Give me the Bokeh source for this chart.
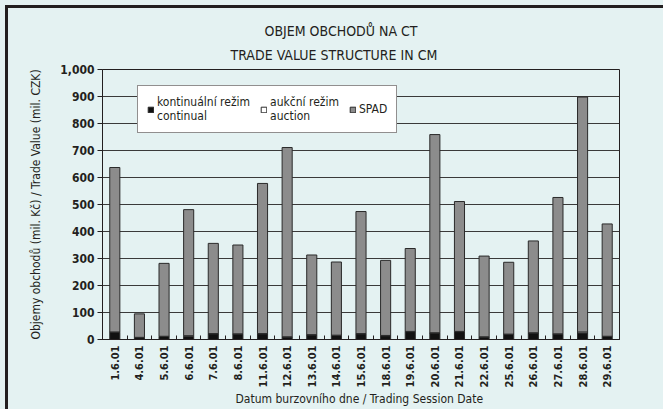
from bokeh.plotting import figure
from bokeh.models import (Range1d, FixedTicker, NumeralTickFormatter, Title,
                          Legend, LegendItem, GlobalInlineStyleSheet, ColumnDataSource)
from bokeh.embed import file_html
from bokeh.resources import INLINE
from math import pi

# ---- data ----
dates = ["1.6.01", "4.6.01", "5.6.01", "6.6.01", "7.6.01", "8.6.01", "11.6.01",
         "12.6.01", "13.6.01", "14.6.01", "15.6.01", "18.6.01", "19.6.01", "20.6.01",
         "21.6.01", "22.6.01", "25.6.01", "26.6.01", "27.6.01", "28.6.01", "29.6.01"]
continual = [26, 7, 11, 12, 21, 20, 21, 9, 17, 15, 21, 14, 29, 24, 29, 9, 19, 24, 20, 24, 11]
auction = [2, 1, 1, 2, 1, 1, 1, 1, 1, 1, 1, 1, 1, 1, 1, 1, 1, 1, 1, 4, 1]
spad = [609, 87, 270, 467, 334, 329, 556, 701, 295, 271, 452, 278, 307, 734,
        481, 299, 266, 340, 505, 870, 416]
y_ticks = [0, 100, 200, 300, 400, 500, 600, 700, 800, 900, 1000]

title1 = "OBJEM OBCHODŮ NA CT"
title2 = "TRADE VALUE STRUCTURE IN CM"
y_label = "Objemy obchodů (mil. Kč) / Trade Value (mil. CZK)"
x_label = "Datum burzovního dne /  Trading Session Date"
legend_labels = ["kontinuální režim\ncontinual", "aukční režim\nauction", "SPAD"]

# ---- styles ----
BG = "#e4f2f2"
FONT = "'DejaVu Sans Condensed', 'Liberation Sans Narrow', sans-serif"
INK = "#231f20"

idx = list(range(len(dates)))
src = ColumnDataSource(dict(x=idx, continual=continual, auction=auction, spad=spad))

p = figure(width=655, height=401, output_backend="svg", toolbar_location=None,
           x_range=Range1d(-0.5, len(dates) - 0.5), y_range=Range1d(0, 1000),
           min_border_left=94, min_border_right=44, min_border_top=61, min_border_bottom=70,
           background_fill_color=BG, border_fill_color=BG,
           outline_line_color=INK, outline_line_width=1)

p.stylesheets = [GlobalInlineStyleSheet(css=(
    "html, body { background-color: %s; }"
    "body { margin: 5px 0 0 5px; border-top: 3px solid %s; border-left: 3px solid %s; }"
) % (BG, INK, INK))]

renderers = p.vbar_stack(["continual", "auction", "spad"], x="x", width=0.41, source=src,
                         fill_color=["#111111", "#ffffff", "#8c8c8c"],
                         line_color="#2a2a2a", line_width=1)

# titles (first added is closest to the frame)
p.add_layout(Title(text=title2, align="left", offset=128, standoff=13,
                   text_font=FONT, text_font_size="14px", text_font_style="normal",
                   text_color=INK), "above")
p.add_layout(Title(text=title1, align="left", offset=162, standoff=0,
                   text_font=FONT, text_font_size="14px", text_font_style="normal",
                   text_color=INK), "above")

# axes
p.xaxis.ticker = FixedTicker(ticks=idx, minor_ticks=[i + 0.5 for i in range(-1, len(dates))])
p.xaxis.major_label_overrides = {i: d for i, d in enumerate(dates)}
p.xaxis.major_label_orientation = pi / 2
p.xaxis.major_tick_in = 0
p.xaxis.major_tick_out = 0
p.xaxis.minor_tick_in = 4
p.xaxis.minor_tick_out = 0
p.xaxis.major_label_standoff = 6
p.xaxis.major_label_text_font_size = "11px"
p.xaxis.axis_label = x_label
p.xaxis.axis_label_standoff = 2

p.yaxis.ticker = FixedTicker(ticks=y_ticks)
p.yaxis.formatter = NumeralTickFormatter(format="0,0")
p.yaxis.major_tick_out = 5
p.yaxis.major_tick_in = 0
p.yaxis.minor_tick_out = 0
p.yaxis.minor_tick_in = 0
p.yaxis.major_label_standoff = 3
p.yaxis.major_label_text_font_size = "12px"
p.yaxis.axis_label = y_label
p.yaxis.axis_label_standoff = 14

for ax in (p.xaxis, p.yaxis):
    ax.axis_line_color = INK
    ax.major_tick_line_color = INK
    ax.minor_tick_line_color = INK
    ax.major_label_text_font = FONT
    ax.major_label_text_font_style = "bold"
    ax.major_label_text_color = INK
    ax.axis_label_text_font = FONT
    ax.axis_label_text_font_size = "12px"
    ax.axis_label_text_font_style = "normal"
    ax.axis_label_text_color = INK

p.xgrid.grid_line_color = None
p.ygrid.grid_line_color = "#3a3a3a"
p.ygrid.grid_line_width = 1

legend = Legend(items=[LegendItem(label=l, renderers=[r]) for l, r in zip(legend_labels, renderers)],
                orientation="horizontal", location=(35, 206),
                background_fill_color="white", background_fill_alpha=1,
                border_line_color=INK, border_line_width=1,
                label_text_font=FONT, label_text_font_size="12px", label_text_color=INK,
                label_text_line_height=1.45,
                glyph_width=7, glyph_height=7, label_standoff=3, spacing=10,
                padding=9, margin=0)
p.add_layout(legend, "center")

open("out.html", "w").write(file_html(p, INLINE))
